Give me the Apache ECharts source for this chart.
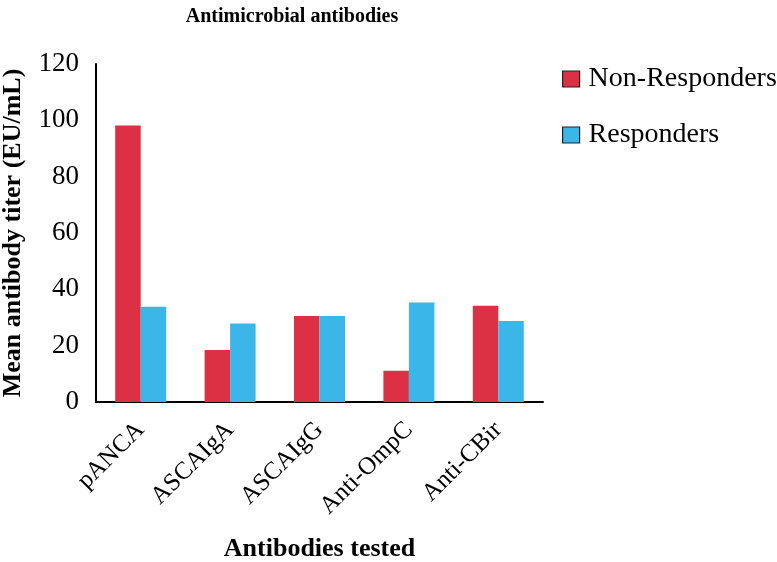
<!DOCTYPE html>
<html><head><meta charset="utf-8">
<script src="https://cdn.jsdelivr.net/npm/echarts@6/dist/echarts.min.js"></script>
<style>html,body{margin:0;padding:0;background:#fff}#c{width:777px;height:562px}</style>
</head><body><div id="c"></div>
<script>
const categories = ['pANCA', 'ASCAIgA', 'ASCAIgG', 'Anti-OmpC', 'Anti-CBir'];
const nonResponders = [98.2, 18.5, 30.5, 11.1, 34.2];
const responders = [33.8, 27.9, 30.5, 35.3, 28.8];
const yTicks = [0, 20, 40, 60, 80, 100, 120];

const F = 'Liberation Serif';
const chart = echarts.init(document.getElementById('c'));
chart.setOption({
  animation: false,
  title: {
    text: 'Antimicrobial antibodies', left: 287, top: 2, textAlign: 'center',
    textStyle: { fontFamily: F, fontSize: 20, fontWeight: 'bold', color: '#000' }
  },
  legend: {
    orient: 'vertical', left: 562, top: 65, padding: 0, itemWidth: 17, itemHeight: 16, itemGap: 28,
    icon: 'rect',
    textStyle: { fontFamily: F, fontSize: 28, color: '#000', padding: [0, 0, 0, 4] },
    itemStyle: { borderColor: '#222', borderWidth: 1.2 },
    data: ['Non-Responders', 'Responders']
  },
  grid: { left: 96, right: 234, top: 64, bottom: 160, containLabel: false, outerBoundsMode: 'none' },
  xAxis: {
    type: 'category', data: categories,
    axisLine: { lineStyle: { color: '#000', width: 2 } },
    axisTick: { show: false },
    axisLabel: { rotate: 45, fontFamily: F, fontSize: 25, color: '#000', margin: 24 },
    name: 'Antibodies tested', nameLocation: 'middle', nameGap: 134,
    nameTextStyle: { fontFamily: F, fontSize: 26, fontWeight: 'bold', color: '#000' }
  },
  yAxis: {
    type: 'value', min: 0, max: 120, interval: 20,
    axisLine: { show: true, lineStyle: { color: '#000', width: 2 } },
    axisTick: { show: false },
    splitLine: { show: false },
    axisLabel: { fontFamily: F, fontSize: 27, color: '#000', margin: 17,
      formatter: v => yTicks.includes(v) ? String(v) : '' },
    name: 'Mean antibody titer (EU/mL)', nameLocation: 'middle', nameGap: 70,
    nameTextStyle: { fontFamily: F, fontSize: 26, fontWeight: 'bold', color: '#000' }
  },
  series: [
    { name: 'Non-Responders', type: 'bar', data: nonResponders, barWidth: 25.5, barGap: '0%',
      itemStyle: { color: '#DC3144' } },
    { name: 'Responders', type: 'bar', data: responders, barWidth: 25.5,
      itemStyle: { color: '#3BB6E8' } }
  ]
});
</script></body></html>
